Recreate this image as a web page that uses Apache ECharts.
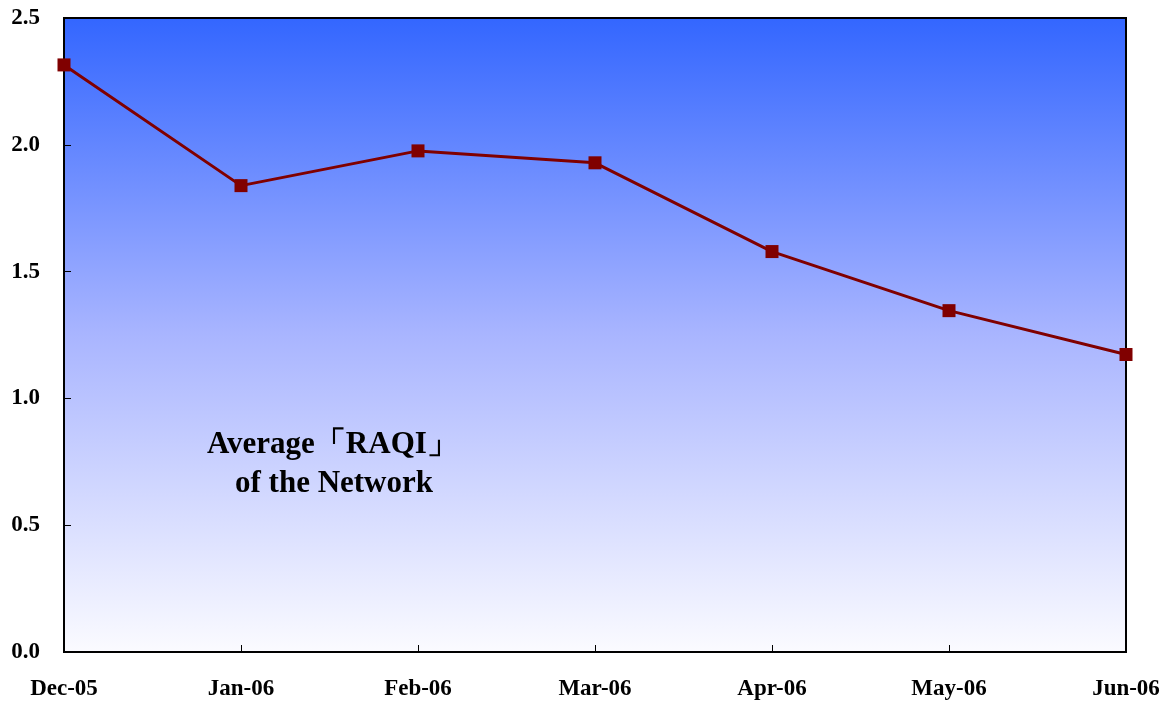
<!DOCTYPE html>
<html>
<head>
<meta charset="utf-8">
<title>Average RAQI of the Network</title>
<script src="https://cdn.jsdelivr.net/npm/echarts@6/dist/echarts.min.js"></script>
<style>
html,body{margin:0;padding:0;background:#fff;}
#chart{width:1168px;height:701px;}
</style>
</head>
<body>
<div id="chart"></div>
<script>
// data
var months = ['Dec-05','Jan-06','Feb-06','Mar-06','Apr-06','May-06','Jun-06'];
var raqi = [2.315, 1.839, 1.976, 1.929, 1.579, 1.346, 1.173];
var yTicks = ['0.0','0.5','1.0','1.5','2.0','2.5'];

var font = '"Liberation Serif","Times New Roman",serif';
var myChart = echarts.init(document.getElementById('chart'));
var option = {
	animation: false,
	grid: {
		left: 64, top: 18, right: 42, bottom: 49,
		show: true,
		borderColor: '#000', borderWidth: 2,
		backgroundColor: new echarts.graphic.LinearGradient(0, 0, 0, 1, [
			{offset: 0, color: '#3366ff'},
			{offset: 0.5, color: '#a9b5ff'},
			{offset: 1, color: '#fbfbff'}
		])
	},
	xAxis: {
		type: 'category',
		data: months,
		boundaryGap: false,
		axisLine: {lineStyle: {color: '#000', width: 2}},
		axisTick: {inside: true, length: 7, lineStyle: {color: '#000'}},
		axisLabel: {color: '#000', fontFamily: font, fontWeight: 'bold', fontSize: 23, margin: 26, showMinLabel: true, showMaxLabel: true},
		splitLine: {show: false}
	},
	yAxis: {
		type: 'value',
		min: 0, max: 2.5, interval: 0.5,
		axisLine: {show: true, lineStyle: {color: '#000', width: 2}},
		axisTick: {show: true, inside: true, length: 7, lineStyle: {color: '#000'}},
		axisLabel: {
			color: '#000', fontFamily: font, fontWeight: 'bold', fontSize: 23, margin: 24,
			formatter: function(v){ return yTicks[Math.round(v / 0.5)]; }
		},
		splitLine: {show: false}
	},
	graphic: [{
		type: 'text',
		left: 207, top: 429,
		style: {text: 'Average「RAQI」', font: 'bold 31px ' + font, fill: '#000'}
	}, {
		type: 'text',
		left: 235, top: 468,
		style: {text: 'of the Network', font: 'bold 31px ' + font, fill: '#000'}
	}],
	series: [{
		type: 'line',
		data: raqi,
		symbol: 'rect',
		symbolSize: 13,
		lineStyle: {color: '#800000', width: 3},
		itemStyle: {color: '#800000'}
	}]
};
myChart.setOption(option);
</script>
</body>
</html>
